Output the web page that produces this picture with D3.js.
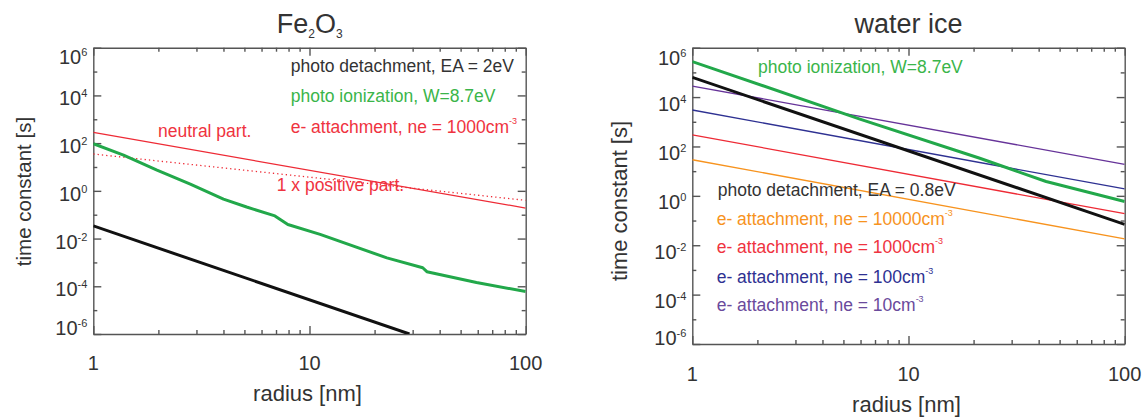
<!DOCTYPE html>
<html>
<head>
<meta charset="utf-8">
<script src="https://cdn.jsdelivr.net/npm/d3@7"></script>
<style>
body { margin: 0; background: #fff; }
text { font-family: "Liberation Sans", Arial, Helvetica, sans-serif; }
</style>
</head>
<body>
<script>
// axis ticks
const radiusMajor = [1, 10, 100]
const radiusMinor = [2, 3, 4, 5, 6, 7, 8, 9, 20, 30, 40, 50, 60, 70, 80, 90]
const expMajor = [6, 4, 2, 0, -2, -4, -6]
const expMinor = [5, 3, 1, -1, -3, -5]

// Fe2O3 panel
const feDetachR = [1, 29]
const feDetachT = [0.034, 1e-6]
const feIonR = [1, 1.38, 1.97, 2.81, 4.0, 5.12, 6.92, 7.94, 11.2, 22.8, 33.4, 34.9, 59.2, 100]
const feIonT = [95, 31.6, 7.4, 1.9, 0.45, 0.21, 0.089, 0.039, 0.015, 1.55e-3, 6.0e-4, 4.1e-4, 1.45e-4, 6.0e-5]
const feNeutralR = [1, 100]
const feNeutralT = [280, 0.19]
const fePositiveR = [1, 100]
const fePositiveT = [35, 0.4]

// water ice panel
const iceIonR = [1, 5.96, 21.2, 43.3, 100]
const iceIonT = [2.75e5, 1290, 34, 3.8, 0.59]
const iceDetachR = [1, 100]
const iceDetachT = [6.3e4, 0.07]
const iceNe = ['10000', '1000', '100', '10']
const iceAttachAt1 = [29, 295, 3000, 28000]
const iceAttachAt100 = [0.018, 0.19, 1.9, 19]
const iceAttachColors = ['#f7931e', '#ee2a35', '#2e3192', '#663399']
const iceAttachText = ['#f7931e', '#ef3340', '#2e3192', '#6a4a9c']

const width = 1146, height = 418
const axisColor = '#555'
const textColor = '#333'

const svg = d3.select('body').append('svg')
    .attr('width', width)
    .attr('height', height)

function makePanel(p) {
    const x = d3.scaleLog().domain([1, 100]).range([p.x0, p.x1])
    const y = d3.scaleLog().domain([1e-6, 1e6]).range([p.y1, p.y0])
    const g = svg.append('g')

    g.append('clipPath').attr('id', p.id)
        .append('rect')
        .attr('x', p.x0).attr('y', p.y0)
        .attr('width', p.x1 - p.x0).attr('height', p.y1 - p.y0)

    // ticks, all pointing inward
    const axes = [
        [d3.axisBottom(x), p.y1, 0, radiusMajor, radiusMinor],
        [d3.axisTop(x), p.y0, 0, radiusMajor, radiusMinor],
        [d3.axisLeft(y), p.x0, 1, expMajor.map(e => Math.pow(10, e)), expMinor.map(e => Math.pow(10, e))],
        [d3.axisRight(y), p.x1, 1, expMajor.map(e => Math.pow(10, e)), expMinor.map(e => Math.pow(10, e))]
    ]
    axes.forEach(function(a) {
        const tr = a[2] ? 'translate(' + a[1] + ',0)' : 'translate(0,' + a[1] + ')'
        const major = g.append('g').attr('transform', tr)
            .call(a[0].tickValues(a[3]).tickSize(-8).tickSizeOuter(0).tickFormat(''))
        const minor = g.append('g').attr('transform', tr)
            .call(a[0].tickValues(a[4]).tickSize(-4).tickSizeOuter(0).tickFormat(''))
        minor.select('.domain').remove()
        g.selectAll('path, line').attr('stroke', axisColor).attr('stroke-width', 1.4)
    })

    // y tick labels
    expMajor.forEach(function(e, i) {
        let off = p.labOff
        if (i === 0) off = p.topOff
        if (i === expMajor.length - 1) off = 0.5
        const t = g.append('text')
            .attr('x', p.x0 - 6)
            .attr('y', y(Math.pow(10, e)) + off)
            .attr('text-anchor', 'end')
            .attr('fill', textColor)
            .style('font-size', '20px')
            .text('10')
        t.append('tspan').attr('dy', -8).style('font-size', '11px').text(e)
    })

    // x tick labels
    radiusMajor.forEach(function(r) {
        g.append('text')
            .attr('x', x(r)).attr('y', p.y1 + p.xlabOff)
            .attr('text-anchor', 'middle')
            .attr('fill', textColor)
            .style('font-size', '20px')
            .text(r)
    })

    g.append('text')
        .attr('x', (p.x0 + p.x1) / 2 - 2).attr('y', p.xtitleY)
        .attr('text-anchor', 'middle')
        .attr('fill', textColor)
        .style('font-size', '22px')
        .text('radius [nm]')

    g.append('text')
        .attr('transform', 'translate(' + p.ytitleX + ',' + p.ytitleY + ') rotate(-90)')
        .attr('text-anchor', 'middle')
        .attr('fill', textColor)
        .style('font-size', p.ytitleSize)
        .text('time constant [s]')

    const lines = g.append('g').attr('clip-path', 'url(#' + p.id + ')')
    const line = d3.line().x(d => x(d[0])).y(d => y(d[1]))

    p.series.forEach(function(s) {
        lines.append('path')
            .attr('d', line(d3.zip(s.r, s.t)))
            .attr('fill', 'none')
            .attr('stroke', s.color)
            .attr('stroke-width', s.w)
            .attr('stroke-dasharray', s.dash || null)
            .attr('stroke-linejoin', 'round')
    })

    return g
}

function label(g, px, py, color, txt, sup) {
    const t = g.append('text')
        .attr('x', px).attr('y', py)
        .attr('fill', color)
        .style('font-size', '17.5px')
        .text(txt)
    if (sup) t.append('tspan').attr('dy', -9).style('font-size', '9px').text(sup)
    return t
}

// left panel
const left = makePanel({
    id: 'clipFe', x0: 93.3, x1: 525.7, y0: 47.7, y1: 334,
    labOff: 10, topOff: 16, xlabOff: 36, xtitleY: 401,
    ytitleX: 30.5, ytitleY: 191.5, ytitleSize: '20.5px',
    series: [
        {r: feNeutralR, t: feNeutralT, color: '#ee2a35', w: 1.3},
        {r: fePositiveR, t: fePositiveT, color: '#ee2a35', w: 1.3, dash: '1.3,3'},
        {r: feIonR, t: feIonT, color: '#22a84a', w: 3},
        {r: feDetachR, t: feDetachT, color: '#111', w: 3}
    ]
})

const fe = left.append('text')
    .attr('x', 276.7).attr('y', 33)
    .attr('fill', textColor)
    .style('font-size', '27px')
    .text('Fe')
fe.append('tspan').attr('dy', 5).style('font-size', '12px').text('2')
fe.append('tspan').attr('dy', -5).text('O')
fe.append('tspan').attr('dy', 5).style('font-size', '12px').text('3')

label(left, 290.7, 71.5, textColor, 'photo detachment, EA = 2eV')
label(left, 290.7, 101.7, '#3ab54a', 'photo ionization, W=8.7eV')
label(left, 290.7, 133.3, '#ef3340', 'e- attachment, ne = 1000cm', '-3')
label(left, 158, 137.3, '#ef3340', 'neutral part.')
label(left, 276.7, 190.7, '#ef3340', '1 x positive part.')

// right panel
const iceSeries = iceNe.map((ne, i) => ({r: [1, 100], t: [iceAttachAt1[i], iceAttachAt100[i]], color: iceAttachColors[i], w: 1.3}))
iceSeries.push({r: iceDetachR, t: iceDetachT, color: '#111', w: 3})
iceSeries.push({r: iceIonR, t: iceIonT, color: '#22a84a', w: 3})

const right = makePanel({
    id: 'clipIce', x0: 692.3, x1: 1124.7, y0: 47.7, y1: 344,
    labOff: 13.5, topOff: 17, xlabOff: 37, xtitleY: 411.5,
    ytitleX: 627, ytitleY: 201, ytitleSize: '22px',
    series: iceSeries
})

right.append('text')
    .attr('x', 908.5).attr('y', 33)
    .attr('text-anchor', 'middle')
    .attr('fill', textColor)
    .style('font-size', '27px')
    .text('water ice')

label(right, 758, 72.7, '#3ab54a', 'photo ionization, W=8.7eV')
label(right, 717.7, 196, textColor, 'photo detachment, EA = 0.8eV')
const legY = [225, 253.3, 282.7, 311]
iceNe.forEach(function(ne, i) {
    label(right, 716.7, legY[i], iceAttachText[i], 'e- attachment, ne = ' + ne + 'cm', '-3')
})
</script>
</body>
</html>
